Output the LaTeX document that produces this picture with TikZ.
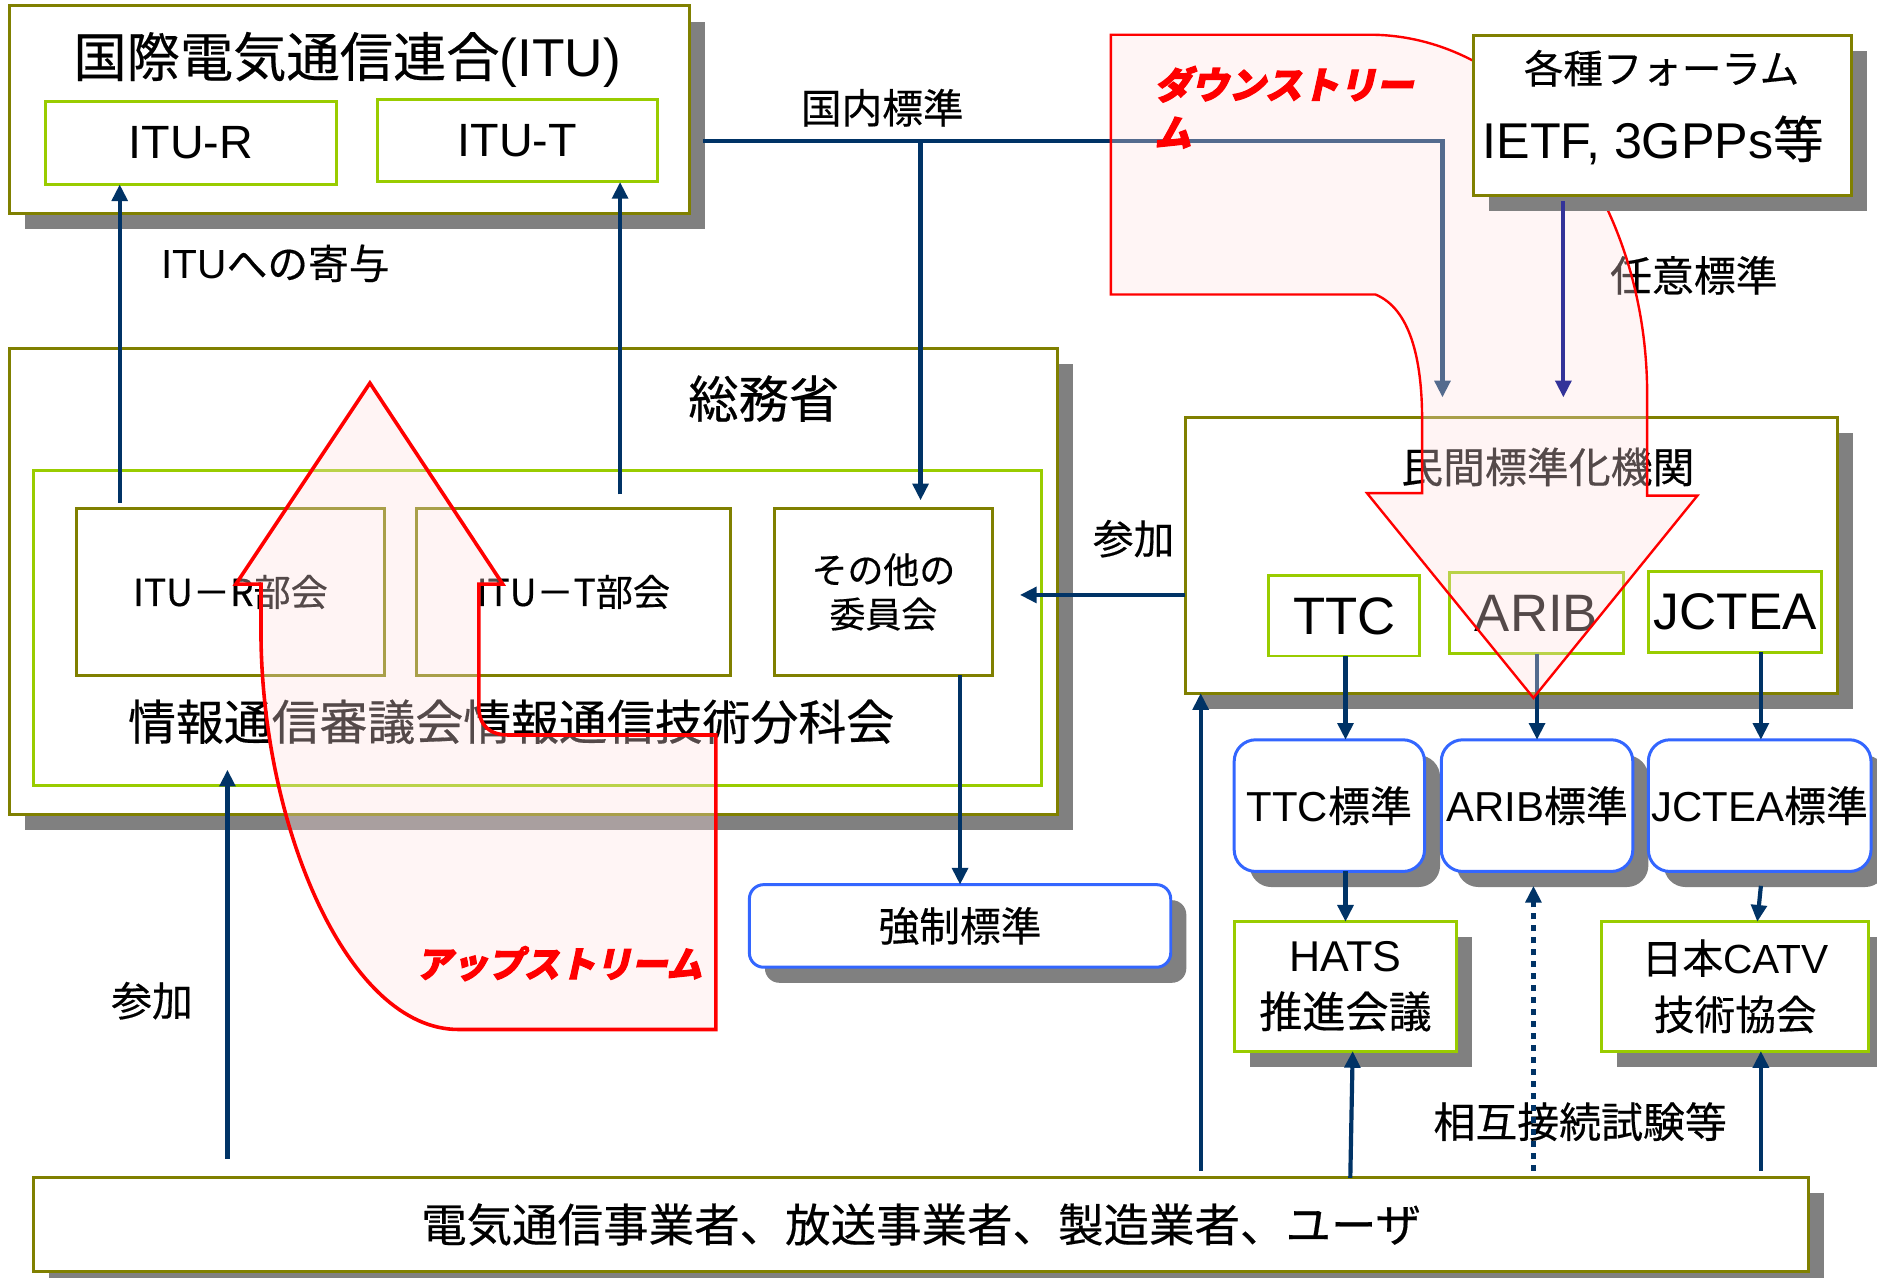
\documentclass[tikz,border=0pt]{standalone}
\usepackage{fontspec}
\setmainfont[FakeBold=0.4]{Noto Sans CJK JP}
\newfontfamily\lat{Liberation Sans}
\newfontfamily\pop[FakeSlant=0.22,FakeBold=4,BoldFeatures={FakeSlant=0.22,FakeBold=3}]{Noto Sans CJK JP}
\usetikzlibrary{arrows.meta,shadows,calc}
\definecolor{olv}{HTML}{808000}
\definecolor{ygr}{HTML}{99CC00}
\definecolor{rbl}{HTML}{3366FF}
\definecolor{nav}{HTML}{003366}
\definecolor{ind}{HTML}{333399}
\definecolor{shg}{HTML}{808080}
\definecolor{pinkf}{RGB}{255,224,224}
\newcommand\fsz[1]{\fontsize{#1}{#1}\selectfont}
\begin{document}
\begin{tikzpicture}[x=1pt,y=-1pt,
  obox/.style={draw=olv,line width=2.5pt,fill=white,inner sep=0pt,outer sep=0pt},
  gbox/.style={draw=ygr,line width=2.5pt,fill=white,inner sep=0pt,outer sep=0pt},
  rbox/.style={draw=rbl,line width=2.5pt,fill=white,inner sep=0pt,outer sep=0pt,rounded corners=18pt},
  shad/.style={drop shadow={shadow xshift=13pt,shadow yshift=-13pt,fill=shg,opacity=1}},
  tx/.style={inner sep=0pt},
  arr/.style={color=nav,line width=3.5pt,-{Triangle[length=14pt,width=13pt]}},
  dotarr/.style={arr,dash pattern=on 5pt off 5pt},
  redsh/.style={draw=red,fill=pinkf,fill opacity=0.33,line join=miter}]
\useasboundingbox (0,0) rectangle (1568,1067);
% x/y helper coordinates
\coordinate (xa) at (100,0);
\coordinate (xb) at (518,0);
\coordinate (x190) at (190,0);
\coordinate (x802) at (802,0);
\coordinate (x1003) at (1003,0);
\coordinate (x1124) at (1124,0);
\coordinate (x1128) at (1128,0);
\coordinate (x1130) at (1130,0);
\coordinate (x1281) at (1281,0);
\coordinate (x1284) at (1284,0);
\coordinate (x1306) at (1306,0);
\coordinate (x1468) at (1468,0);
\coordinate (x1471) at (1471,0);
\coordinate (y497) at (0,497);

% ITU
\node[obox,shad,minimum width=568pt,minimum height=173pt] (itu) at (292,91.5) {};
\node[tx,font=\fsz{44.5}] (itutitle) at (290,50) {国際電気通信連合{\lat (ITU)}};
\node[gbox,minimum width=243pt,minimum height=69pt,font=\lat\fsz{39}] (itur) at (159.5,119.5) {ITU-R};
\node[gbox,minimum width=234pt,minimum height=69pt,font=\lat\fsz{39}] (itut) at (432,117.5) {ITU-T};

% Somusho
\node[obox,shad,minimum width=875pt,minimum height=389pt] (somu) at (445.5,485.5) {};
\node[tx,font=\fsz{42}] (somut) at (638,333) {総務省};
\node[gbox,minimum width=842pt,minimum height=263pt] (shingi) at (449,524.5) {};
\node[obox,minimum width=257pt,minimum height=139pt,font=\fsz{31}] (irb) at (192.5,494.5) {ITU－R部会};
\node[obox,minimum width=262pt,minimum height=139pt,font=\fsz{31}] (itb) at (479,494.5) {ITU－T部会};
\node[obox,minimum width=182pt,minimum height=139pt,align=center,font=\fontsize{30}{37}\selectfont] (sonota) at (738,494.5) {その他の\\委員会};
\node[tx,font=\fsz{40}] (shingit) at (427,603) {情報通信審議会情報通信技術分科会};

% Kyosei
\node[rbox,shad,rounded corners=12pt,minimum width=352pt,minimum height=69pt,font=\fsz{34}] (kyosei) at (802,773.5) {強制標準};

% Minkan
\node[obox,shad,minimum width=545pt,minimum height=230pt] (minkan) at (1262.5,464) {};
\node[tx,font=\fsz{35}] (minkant) at (1293,390) {民間標準化機関};
\node[gbox,minimum width=126pt,minimum height=67pt,font=\lat\fsz{44}] (ttc) at (1123,514.5) {TTC};
\node[gbox,minimum width=145pt,minimum height=68pt,font=\lat\fsz{44}] (arib) at (1283.5,512) {ARIB};
\node[gbox,minimum width=145pt,minimum height=68pt,font=\lat\fsz{43}] (jctea) at (1449.5,511) {JCTEA};

% standards
\node[rbox,shad,minimum width=159pt,minimum height=110pt,font=\fsz{35}] (ttcs) at (1110.5,673) {{\lat TTC}標準};
\node[rbox,shad,minimum width=160pt,minimum height=110pt,font=\fsz{35}] (aribs) at (1284,673) {{\lat ARIB}標準};
\node[rbox,shad,minimum width=186pt,minimum height=110pt,font=\fsz{35}] (jcteas) at (1470,673) {{\lat JCTEA}標準};

\node[gbox,shad,minimum width=186pt,minimum height=108pt,align=center,font=\fontsize{36}{47}\selectfont] (hats) at (1124,824) {{\lat HATS}\\推進会議};
\node[gbox,shad,minimum width=223pt,minimum height=108pt,align=center,font=\fontsize{34}{47}\selectfont] (catv) at (1449.5,824) {日本{\lat CATV}\\技術協会};

% users
\node[obox,shad,minimum width=1483pt,minimum height=78pt,font=\fsz{38}] (users) at (769.5,1023) {電気通信事業者、放送事業者、製造業者、ユーザ};

% labels
\node[tx,font=\fsz{34}] (kiyo) at (230,220) {{\lat ITU}への寄与};
\node[tx,font=\fsz{34}] (kokunai) at (737,90) {国内標準};
\node[tx,font=\fsz{35}] (nini) at (1415,230) {任意標準};
\node[tx,font=\fsz{34}] (sanka1) at (947,450) {参加};
\node[tx,font=\fsz{34}] (sanka2) at (127,836) {参加};
\node[tx,font=\fsz{35}] (sogo) at (1320,937) {相互接続試験等};

% arrows
\draw[arr] ([yshift=5pt]irb.north -| xa) -- (itur.south -| xa);
\draw[arr] ([yshift=12pt]itb.north -| xb) -- (itut.south -| xb);
\coordinate (kn0) at (587,118);
\coordinate (kn1) at (769,118);
\coordinate (kn2) at (1205,118);
\coordinate (kn3) at (1205,332);
\draw[arr,line join=miter] (kn0) -- (kn2) -- (kn3);
\draw[arr] (kn1) -- ([yshift=7pt]sonota.north -| kn1);
\draw[arr] (minkan.west |- y497) -- ([xshift=23pt]sonota.east |- y497);
\draw[arr] (sonota.south -| x802) -- (kyosei.north -| x802);
\draw[arr] ([yshift=16pt]users.north -| x190) -- ([yshift=13pt]shingi.south -| x190);
\draw[arr] ([yshift=6pt]users.north -| x1003) -- (minkan.south -| x1003);
\draw[arr] (users.north -| x1128) -- (hats.south -| x1130);
\draw[arr] ([yshift=6pt]users.north -| x1471) -- (catv.south -| x1471);
\draw[dotarr] ([yshift=6pt]users.north -| x1281) -- ([yshift=-12pt]aribs.south -| x1281);
\draw[arr] (ttc.south -| x1124) -- (ttcs.north -| x1124);
\draw[arr] (arib.south -| x1284) -- (aribs.north -| x1284);
\draw[arr] (jctea.south -| x1471) -- (jcteas.north -| x1471);
\draw[arr] (ttcs.south -| x1124) -- (hats.north -| x1124);
\draw[arr] ([yshift=-12pt]jcteas.south -| x1471) -- (catv.north -| x1468);

% red flows
\draw[redsh,line width=3pt] (309,320) -- (420,488) -- (400,488) -- (400,590)
  .. controls (400,606) and (409,614) .. (425,614) -- (598,614) -- (598,860) -- (383,860)
  .. controls (290,860) and (219,690) .. (218,530) -- (218,488) -- (197,488) -- cycle;
\draw[redsh,line width=2pt] (928,29) -- (1144,29) .. controls (1272,29) and (1376,164) .. (1376,330)
  -- (1376,414) -- (1418,414) -- (1281,583) -- (1142,412) -- (1188,412) -- (1188,351)
  .. controls (1188,300) and (1178,258) .. (1149,246) -- (928,246) -- cycle;
\node[anchor=north west,inner sep=0pt,text=red,align=left,font=\pop\bfseries\fontsize{31}{40}\selectfont] (down) at (964,55) {ダウンストリー\\ム};
\node[inner sep=0pt,text=red,font=\pop\bfseries\fsz{30}] (up) at (467,805) {アップストリーム};

% forum (on top)
\node[obox,shad,minimum width=316pt,minimum height=133pt] (forum) at (1389,96.5) {};
\node[tx,font=\fsz{33}] (forumt) at (1388,57) {各種フォーラム};
\node[tx,font=\lat\fsz{42}] (ietf) at (1381,117) {IETF, 3GPPs{\rmfamily 等}};
\draw[arr,color=ind] ([yshift=-5pt]forum.south -| x1306) -- (1306,332);
\end{tikzpicture}
\end{document}
